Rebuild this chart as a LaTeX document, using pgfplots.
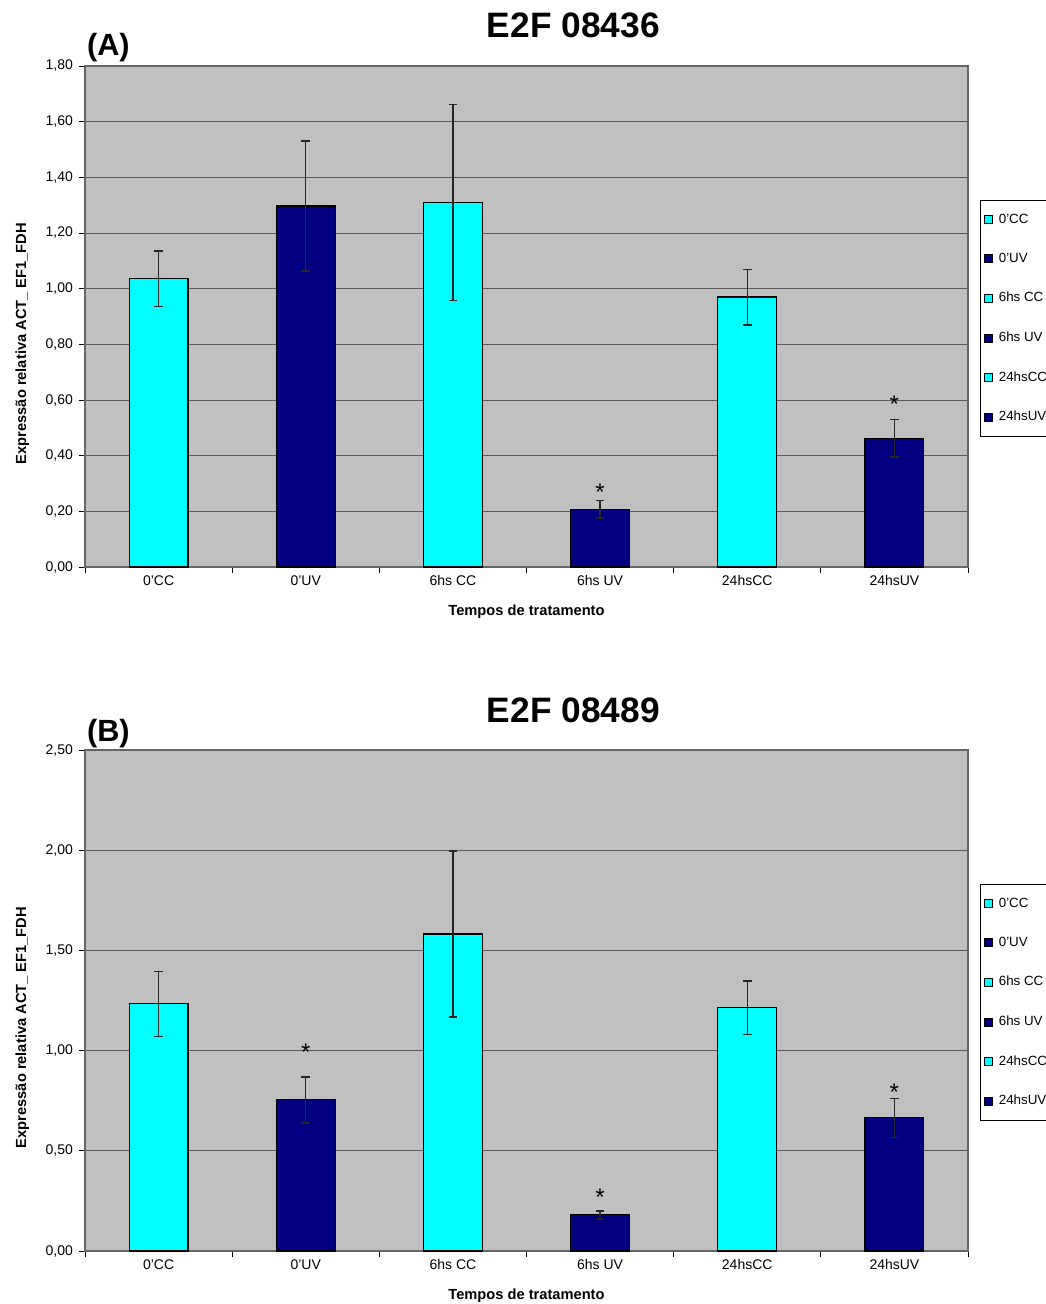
\documentclass[border=0pt]{standalone}
\usepackage{pgfplots}
\pgfplotsset{compat=1.18}
\usepackage{fontspec}
\setmainfont{Liberation Sans}
\definecolor{cyanbar}{HTML}{00FFFF}
\definecolor{navybar}{HTML}{000080}
\definecolor{plotbg}{HTML}{C0C0C0}
\definecolor{gridc}{HTML}{5A5A5A}
\tikzset{star/.style={font=\fontsize{18}{18}\selectfont}}

\pgfplotsset{
  mybars/.style={
    scale only axis,
    width=662.25pt, height=375.75pt,
    anchor=north west,
    clip mode=individual,
    axis background/.style={fill=plotbg},
    ybar, bar shift=0pt, bar width=0.40,
    xmin=-0.5, xmax=5.5, ymin=0,
    axis line style={draw=gray!80!black, line width=0.8pt},
    ymajorgrids, grid style={draw=gridc, line width=0.7pt},
    xtick={-0.5,0.5,...,5.5}, xticklabels={},
    extra x ticks={0,1,2,3,4,5},
    extra x tick labels={0'CC,0'UV,6hs CC,6hs UV,24hsCC,24hsUV},
    extra x tick style={major tick length=0pt, grid=none, xticklabel style={yshift=-3pt}},
    tick align=outside, major tick length=4.5pt,
    tick style={black, line width=0.6pt},
    xtick pos=bottom, ytick pos=left,
    ticklabel style={font=\fontsize{10.5}{12}\selectfont},
    /pgf/number format/.cd, fixed, fixed zerofill, precision=2, use comma, assume math mode=true,
    /pgfplots/.cd,
    yticklabel style={xshift=-1pt},
    ylabel={Expressão relativa ACT\_ EF1\_FDH},
    ylabel style={at={(axis description cs:-0.071,0.446)}, anchor=center, rotate=0, font=\bfseries\fontsize{11}{12}\selectfont},
    xlabel={Tempos de tratamento},
    xlabel style={at={(axis description cs:0.5,-0.09)}, anchor=center, font=\bfseries\fontsize{11}{12}\selectfont},
    error bars/y dir=both, error bars/y explicit,
    error bars/error bar style={draw=black!85, line width=1pt},
    error bars/error mark options={rotate=90, mark size=3.2pt, draw=black!85, line width=1pt},
    legend cell align=left,
    legend image code/.code={\draw[#1, draw=black, line width=0.4pt] (0pt,-3pt) rectangle (6pt,3pt);},
    legend style={anchor=north west, draw=black, line width=0.5pt, fill=white,
      font=\fontsize{10}{11}\selectfont, row sep=17pt, inner xsep=3pt, inner ysep=8pt,
      /tikz/every odd column/.append style={column sep=2.5pt}},
    cc/.style={fill=cyanbar, draw=black, line width=0.8pt},
    uv/.style={fill=navybar, draw=black, line width=0.8pt},
  }
}

\begin{document}
\begin{tikzpicture}
\useasboundingbox (0pt,0pt) rectangle (784.5pt,-978pt);

% ---------------- (A) ----------------
\begin{axis}[mybars, at={(63.75pt,-49.5pt)},
  ymax=1.8, ytick={0,0.2,...,1.8},
  legend style={at={(1,0.7325)}, xshift=9pt}]
\addplot[cc] coordinates {(0,1.035) +- (0,0.10)};
\addplot[uv] coordinates {(1,1.297) +- (0,0.233)};
\addplot[cc] coordinates {(2,1.31) +- (0,0.352)};
\addplot[uv] coordinates {(3,0.208) +- (0,0.032)};
\addplot[cc] coordinates {(4,0.97) +- (0,0.10)};
\addplot[uv] coordinates {(5,0.463) +- (0,0.068)};
\legend{0'CC,0'UV,6hs CC,6hs UV,24hsCC,24hsUV}
\node[star] at (axis cs:3,0.27) {*};
\node[star] at (axis cs:5,0.585) {*};
\node[font=\bfseries\fontsize{26.5}{26}\selectfont] at (axis description cs:0.553,1.082) {E2F 08436};
\node[font=\bfseries\fontsize{23}{23}\selectfont] at (axis description cs:0.0265,1.036) {(A)};
\end{axis}

% ---------------- (B) ----------------
\begin{axis}[mybars, at={(63.75pt,-562.5pt)},
  ymax=2.5, ytick={0,0.5,...,2.5},
  legend style={at={(1,0.7325)}, xshift=9pt}]
\addplot[cc] coordinates {(0,1.233) +- (0,0.162)};
\addplot[uv] coordinates {(1,0.754) +- (0,0.115)};
\addplot[cc] coordinates {(2,1.582) +- (0,0.414)};
\addplot[uv] coordinates {(3,0.18) +- (0,0.02)};
\addplot[cc] coordinates {(4,1.213) +- (0,0.134)};
\addplot[uv] coordinates {(5,0.664) +- (0,0.098)};
\legend{0'CC,0'UV,6hs CC,6hs UV,24hsCC,24hsUV}
\node[star] at (axis cs:1,0.99) {*};
\node[star] at (axis cs:3,0.27) {*};
\node[star] at (axis cs:5,0.79) {*};
\node[font=\bfseries\fontsize{26.5}{26}\selectfont] at (axis description cs:0.553,1.080) {E2F 08489};
\node[font=\bfseries\fontsize{23}{23}\selectfont] at (axis description cs:0.0265,1.032) {(B)};
\end{axis}
\end{tikzpicture}
\end{document}
